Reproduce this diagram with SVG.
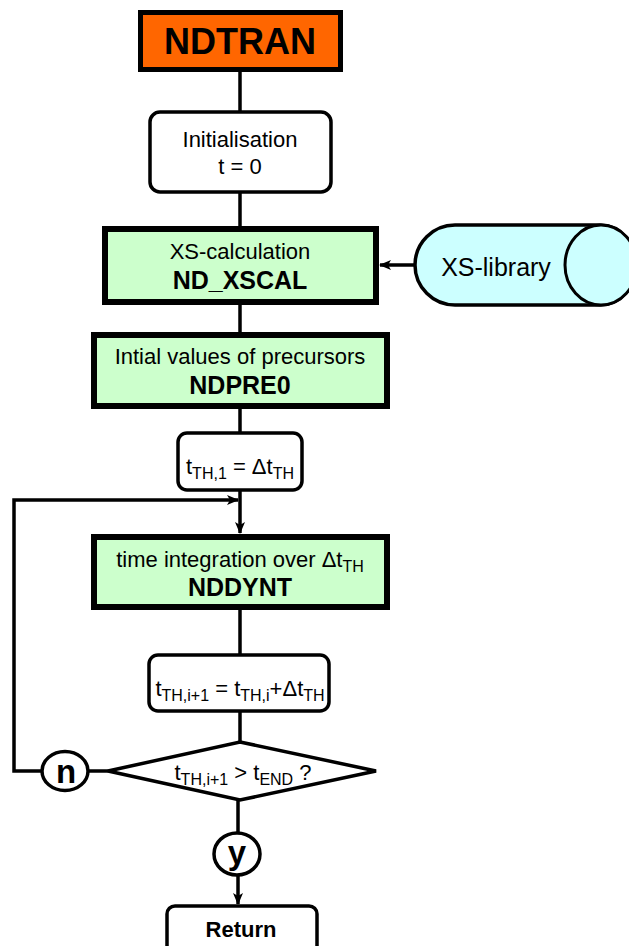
<svg xmlns="http://www.w3.org/2000/svg" width="629" height="946" viewBox="0 0 629 946">
  <defs>
    <style>
      text { font-family: "Liberation Sans", Arial, sans-serif; fill: #000; text-anchor: middle; }
      .reg { font-size: 22px; }
      .bold { font-weight: bold; font-size: 25px; }
      .sub { font-size: 16px; }
      .mark { font-weight: bold; font-size: 33px; }
      .proc { fill: #CCFFCC; stroke: #000; stroke-width: 6; }
      .plain { fill: #FFFFFF; stroke: #000; stroke-width: 3.5; }
      .line { fill: none; stroke: #000; stroke-width: 3.5; }
    </style>
    <marker id="arrow" viewBox="0 0 12 10" refX="11" refY="5" markerWidth="12" markerHeight="10" markerUnits="userSpaceOnUse" orient="auto">
      <path d="M0,0 L12,5 L0,10 L3,5 z" fill="#000"/>
    </marker>
  </defs>

  <!-- connectors -->
  <g id="connectors">
    <line class="line" x1="240" y1="70" x2="240" y2="112"/>
    <line class="line" x1="240" y1="192" x2="240" y2="228"/>
    <line class="line" x1="415" y1="265" x2="380" y2="265" marker-end="url(#arrow)"/>
    <line class="line" x1="240" y1="303" x2="240" y2="334"/>
    <line class="line" x1="240" y1="407" x2="240" y2="433"/>
    <line class="line" x1="240" y1="490" x2="240" y2="533" marker-end="url(#arrow)"/>
    <polyline class="line" points="42,771 14,771 14,500 238,500" marker-end="url(#arrow)"/>
    <line class="line" x1="88" y1="771" x2="108" y2="771"/>
    <line class="line" x1="240" y1="608" x2="240" y2="655"/>
    <line class="line" x1="240" y1="711" x2="240" y2="742"/>
    <line class="line" x1="238" y1="800" x2="238" y2="833"/>
    <line class="line" x1="238" y1="875" x2="238" y2="904" marker-end="url(#arrow)"/>
  </g>

  <!-- start node -->
  <g id="ndtran">
    <rect x="140.5" y="12.5" width="200" height="57" fill="#FF6600" stroke="#000" stroke-width="5"/>
    <text x="240" y="54" style="font-weight:bold;font-size:36px">NDTRAN</text>
  </g>

  <g id="init">
    <rect class="plain" x="150" y="112" width="181" height="80" rx="10"/>
    <text class="reg" x="240" y="147">Initialisation</text>
    <text class="reg" x="240" y="174">t = 0</text>
  </g>

  <g id="xscal">
    <rect class="proc" x="105" y="229" width="271" height="73"/>
    <text class="reg" x="240" y="259">XS-calculation</text>
    <text class="bold" x="240" y="289">ND_XSCAL</text>
  </g>

  <g id="xslib">
    <path d="M455,225 L600,225 A36,40 0 0 1 600,305 L455,305 A40,40 0 0 1 455,225 z" fill="#CCFFFF" stroke="#000" stroke-width="3.5"/>
    <ellipse cx="601" cy="265" rx="36" ry="40" fill="#CCFFFF" stroke="#000" stroke-width="3"/>
    <text x="496" y="276" style="font-size:25px">XS-library</text>
  </g>

  <g id="ndpre0">
    <rect class="proc" x="94" y="335" width="293" height="71"/>
    <text class="reg" x="240" y="364">Intial values of precursors</text>
    <text class="bold" x="240" y="394">NDPRE0</text>
  </g>

  <g id="tinit">
    <rect class="plain" x="178" y="433" width="124" height="57" rx="9"/>
    <text class="reg" x="240" y="474">t<tspan class="sub" dy="5">TH,1</tspan><tspan dy="-5"> = Δt</tspan><tspan class="sub" dy="5">TH</tspan></text>
  </g>

  <g id="nddynt">
    <rect class="proc" x="94" y="537" width="293" height="70"/>
    <text class="reg" x="240" y="567">time integration over Δt<tspan class="sub" dy="5">TH</tspan></text>
    <text class="bold" x="240" y="596">NDDYNT</text>
  </g>

  <g id="tstep">
    <rect class="plain" x="149" y="655" width="180" height="56" rx="9"/>
    <text class="reg" x="240" y="696">t<tspan class="sub" dy="5">TH,i+1</tspan><tspan dy="-5"> = t</tspan><tspan class="sub" dy="5">TH,i</tspan><tspan dy="-5">+Δt</tspan><tspan class="sub" dy="5">TH</tspan></text>
  </g>

  <g id="check">
    <polygon points="240,742 376,771 240,800 108,771" fill="#FFFFFF" stroke="#000" stroke-width="3.5"/>
    <text class="reg" x="243" y="780">t<tspan class="sub" dy="5">TH,i+1</tspan><tspan dy="-5"> &gt; t</tspan><tspan class="sub" dy="5">END</tspan><tspan dy="-5"> ?</tspan></text>
  </g>

  <g id="no">
    <ellipse cx="65" cy="771" rx="23" ry="19.5" fill="#FFFFFF" stroke="#000" stroke-width="3.5"/>
    <text class="mark" x="66" y="783">n</text>
  </g>

  <g id="yes">
    <ellipse cx="237" cy="854" rx="23" ry="21" fill="#FFFFFF" stroke="#000" stroke-width="3.5"/>
    <text class="mark" x="237" y="864">y</text>
  </g>

  <g id="return">
    <rect class="plain" x="167" y="906" width="150" height="60" rx="8"/>
    <text x="241" y="937" style="font-weight:bold;font-size:22px">Return</text>
  </g>
</svg>
